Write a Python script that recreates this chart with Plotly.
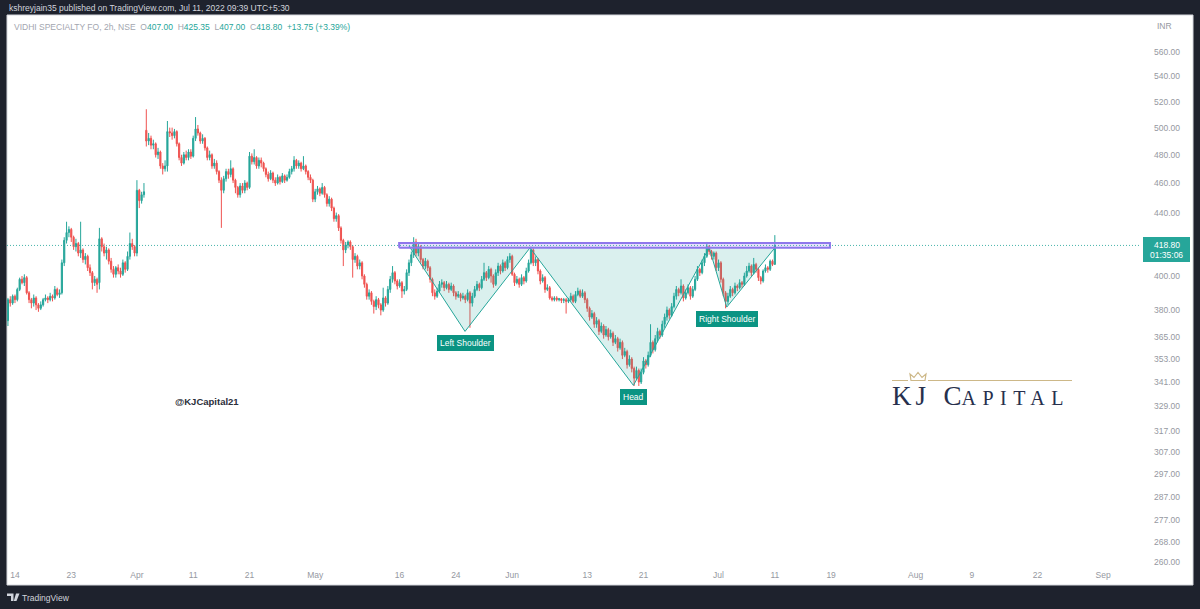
import numpy as np
import plotly.graph_objects as go

W, H = 1200, 609
PL, PR, PT, PB = 7, 1140, 15, 568
FONT = "Liberation Sans"

bar_index = list(range(-3, 325))

opens = [
    374, 386, 384, 388, 386, 392, 398, 396,
    399, 390, 386, 384, 387, 383, 381, 383,
    386, 387, 386, 388, 387, 392, 389, 390,
    408, 422, 427, 429, 424, 418, 420, 414,
    416, 410, 412, 405, 402, 396, 398, 396,
    423, 418, 414, 416, 409, 404, 401, 405,
    403, 401, 408, 404, 412, 420, 418, 414,
    455, 448, 452, 498, 490, 492, 487, 488,
    480, 482, 472, 470, 472, 497, 496, 494,
    497, 488, 478, 474, 480, 478, 482, 479,
    492, 499, 496, 490, 492, 485, 478, 480,
    472, 474, 468, 462, 455, 463, 468, 466,
    470, 462, 457, 452, 458, 455, 460, 457,
    479, 475, 478, 472, 476, 474, 470, 466,
    463, 467, 462, 460, 464, 461, 465, 462,
    464, 468, 470, 476, 472, 474, 470, 472,
    468, 464, 462, 449, 454, 456, 453, 457,
    452, 446, 449, 443, 436, 438, 430, 422,
    416, 419, 421, 418, 410, 412, 406, 408,
    400, 395, 388, 390, 385, 382, 386, 383,
    380, 387, 384, 392, 398, 402, 397, 394,
    396, 391, 392, 402, 408, 413, 421, 414,
    418, 410, 406, 409, 405, 398, 390, 388,
    391, 395, 396, 393, 395, 392, 394, 390,
    388, 389, 387, 388, 386, 390, 384, 388,
    392, 395, 393, 398, 402, 399, 404, 400,
    395, 402, 406, 403, 408, 405, 410, 412,
    401, 396, 398, 395, 399, 397, 403, 408,
    416, 408, 410, 403, 397, 399, 392, 393,
    387, 386, 387, 386, 386.5, 385.5, 386, 385,
    386, 388, 385, 389, 391, 388, 390, 386,
    381, 376, 378, 372, 374, 368, 371, 366,
    369, 365, 367, 362, 364, 359, 362, 355,
    357, 350, 353, 348, 343, 347, 341, 346,
    352, 350, 355, 362, 358, 364, 368, 366,
    372, 376, 380, 377, 382, 388, 392, 390,
    394, 387, 390, 393, 388, 392, 398, 404,
    402, 408, 412, 418, 415, 412, 414, 405,
    408, 398, 390, 385, 388, 392, 390, 394,
    393, 396, 395, 400, 403, 406, 402, 407,
    404, 399, 397, 403, 405, 404, 409, 407,
]

highs = [
    387, 388, 389, 389, 393, 399, 400, 401,
    400, 391, 387, 389, 388, 384, 385, 387,
    389, 388, 390, 389, 394, 393, 392, 410,
    424, 434, 431, 430, 425, 423, 421, 434,
    417, 414, 413, 407, 403, 400, 399, 430,
    424, 420, 418, 417, 411, 406, 406, 407,
    405, 410, 409, 415, 427, 423, 419, 462,
    456, 454, 460, 514, 496, 494, 491, 489,
    485, 483, 474, 476, 505, 500, 500, 499,
    498, 489, 480, 482, 483, 484, 484, 494,
    508, 502, 497, 495, 493, 486, 483, 481,
    477, 476, 469, 464, 465, 470, 470, 476,
    471, 463, 458, 460, 460, 462, 461, 482,
    481, 484, 479, 478, 478, 475, 471, 468,
    469, 468, 464, 466, 465, 467, 466, 466,
    470, 472, 479, 477, 476, 475, 479, 473,
    469, 466, 463, 456, 458, 457, 460, 458,
    453, 451, 450, 444, 440, 439, 431, 423,
    421, 422, 422, 419, 414, 413, 410, 409,
    401, 396, 392, 391, 386, 388, 387, 384,
    393, 388, 394, 400, 406, 403, 398, 398,
    397, 394, 404, 410, 415, 424, 423, 420,
    419, 411, 411, 410, 406, 399, 392, 393,
    397, 398, 397, 397, 396, 396, 395, 391,
    391, 390, 390, 389, 392, 391, 390, 394,
    397, 396, 400, 408, 403, 406, 405, 401,
    404, 408, 407, 410, 409, 412, 414, 413,
    402, 400, 399, 401, 400, 405, 410, 418,
    417, 412, 411, 404, 401, 400, 395, 394,
    388, 388, 388, 387, 387, 387, 387, 387,
    390, 389, 391, 393, 392, 392, 391, 387,
    382, 380, 379, 376, 375, 373, 372, 371,
    370, 369, 368, 366, 365, 364, 363, 359,
    358, 355, 354, 349, 349, 348, 348, 354,
    353, 357, 372, 363, 366, 370, 369, 374,
    378, 382, 381, 384, 390, 394, 393, 398,
    395, 392, 395, 394, 394, 400, 406, 405,
    410, 414, 421, 419, 416, 415, 415, 410,
    409, 399, 391, 390, 394, 393, 396, 395,
    398, 397, 402, 406, 408, 407, 411, 408,
    405, 400, 404, 407, 406, 410, 410, 425.35,
]

lows = [
    371, 382, 383, 384, 385, 391, 395, 394,
    389, 384, 381, 382, 380, 379, 380, 382,
    385, 384, 385, 385, 386, 388, 387, 389,
    406, 420, 424, 421, 416, 415, 412, 411,
    408, 407, 403, 400, 392, 394, 390, 392,
    415, 412, 410, 407, 402, 399, 399, 401,
    399, 400, 402, 403, 410, 416, 412, 412,
    443, 446, 450, 486, 487, 484, 484, 478,
    477, 470, 466, 468, 468, 493, 491, 492,
    486, 476, 472, 473, 476, 476, 477, 478,
    490, 494, 488, 488, 483, 476, 476, 470,
    470, 466, 460, 430, 453, 461, 463, 464,
    460, 453, 450, 450, 453, 453, 455, 456,
    473, 473, 470, 470, 471, 468, 464, 461,
    462, 460, 458, 459, 459, 460, 460, 461,
    463, 466, 468, 470, 470, 468, 469, 466,
    462, 460, 447, 447, 452, 451, 452, 450,
    444, 444, 441, 434, 434, 428, 420, 406,
    414, 417, 416, 399, 408, 404, 404, 398,
    393, 386, 386, 383, 378, 380, 381, 377,
    379, 382, 383, 390, 396, 395, 392, 393,
    387, 389, 391, 400, 406, 411, 412, 412,
    408, 404, 404, 403, 396, 388, 386, 387,
    390, 393, 391, 392, 390, 391, 388, 386,
    387, 385, 386, 384, 385, 370, 382, 387,
    391, 391, 392, 397, 397, 398, 396, 393,
    394, 400, 401, 402, 403, 404, 408, 400,
    394, 395, 393, 394, 395, 396, 402, 407,
    406, 406, 401, 395, 396, 390, 391, 386,
    385, 385, 385, 385, 384, 384, 378, 384,
    385, 384, 384, 388, 387, 387, 384, 379,
    374, 375, 370, 370, 366, 367, 364, 365,
    363, 364, 360, 361, 357, 358, 353, 354,
    348, 349, 346, 339, 342, 339, 340, 345,
    348, 349, 354, 356, 357, 362, 364, 365,
    370, 374, 375, 376, 381, 386, 388, 389,
    385, 386, 389, 386, 387, 391, 397, 400,
    401, 406, 411, 413, 410, 410, 403, 403,
    396, 388, 381, 383, 387, 388, 389, 391,
    392, 393, 394, 399, 402, 400, 401, 402,
    397, 395, 396, 402, 402, 403, 406, 407,
]

closes = [
    386, 384, 388, 386, 392, 398, 396, 399,
    390, 386, 384, 387, 383, 381, 383, 386,
    387, 386, 388, 387, 392, 389, 390, 408,
    422, 427, 429, 424, 418, 420, 414, 416,
    410, 412, 405, 402, 396, 398, 395, 423,
    418, 414, 416, 409, 404, 401, 405, 403,
    401, 408, 404, 412, 420, 418, 414, 455,
    448, 452, 454, 490, 492, 487, 488, 480,
    482, 472, 470, 472, 497, 496, 494, 497,
    488, 478, 474, 480, 478, 482, 479, 492,
    499, 496, 490, 492, 485, 478, 480, 472,
    474, 468, 462, 455, 463, 468, 466, 470,
    462, 457, 452, 458, 455, 460, 457, 479,
    475, 478, 472, 476, 474, 470, 466, 463,
    467, 462, 460, 464, 461, 465, 462, 464,
    468, 470, 476, 472, 474, 470, 472, 468,
    464, 462, 449, 454, 456, 453, 457, 452,
    446, 449, 443, 436, 438, 430, 422, 416,
    419, 421, 418, 410, 412, 406, 408, 400,
    395, 388, 390, 385, 382, 386, 383, 380,
    387, 384, 392, 398, 402, 397, 394, 396,
    391, 392, 402, 408, 413, 421, 414, 418,
    410, 406, 409, 405, 398, 390, 388, 391,
    395, 396, 393, 395, 392, 394, 390, 388,
    389, 387, 388, 386, 390, 384, 388, 392,
    395, 393, 398, 402, 399, 404, 400, 395,
    402, 406, 403, 408, 405, 410, 412, 401,
    396, 398, 395, 399, 397, 403, 408, 416,
    408, 410, 403, 397, 399, 392, 393, 387,
    386, 387, 386, 386.5, 385.5, 386, 385, 386,
    388, 385, 389, 391, 388, 390, 386, 381,
    376, 378, 372, 374, 368, 371, 366, 369,
    365, 367, 362, 364, 359, 362, 355, 357,
    350, 353, 348, 343, 347, 341, 346, 352,
    350, 355, 362, 358, 364, 368, 366, 372,
    376, 380, 377, 382, 388, 392, 390, 394,
    387, 390, 393, 388, 392, 398, 404, 402,
    408, 412, 418, 415, 412, 414, 405, 408,
    398, 390, 385, 388, 392, 390, 394, 393,
    396, 395, 400, 403, 406, 402, 407, 404,
    399, 397, 403, 405, 404, 409, 407, 418.8,
]

# time axis (trading-day index from Mar 14, 4 two-hour bars per day)
bars_per_day = 4
tick_days = [0, 6, 13, 19, 25, 32, 41, 47, 53, 61, 67, 75, 81, 87, 96, 102, 109, 116]
tick_labels = ["14", "23", "Apr", "11", "21", "May", "16", "24", "Jun", "13", "21",
               "Jul", "11", "19", "Aug", "9", "22", "Sep"]
x_range = [-3.4, 479.7]

price_ticks = [560, 540, 520, 500, 480, 460, 440, 400, 380, 365, 353, 341, 329,
               317, 307, 297, 287, 277, 268, 260]
y_range_prices = [257.8, 592.3]

# inverse head & shoulders drawing
pattern_bars = [168, 191.9, 219.6, 263.7, 296, 303.5, 324]
pattern_prices = [418.5, 368.0, 417.3, 339.3, 417.3, 381.7, 417.3]
pattern_labels = ["Left Shoulder", "Head", "Right Shoulder"]
label_points = [1, 3, 5]

neck_bars = [163.8, 347.5]
neck_prices = [417.3, 420.3]

last_price = closes[-1]

TEAL = "#26a69a"
RED = "#ef5350"


def px(x):
    return (x - PL) / (PR - PL)


def py(y):
    return (PB - y) / (PB - PT)


fig = go.Figure()

fig.add_trace(go.Candlestick(
    x=bar_index, open=opens, high=highs, low=lows, close=closes,
    increasing=dict(line=dict(color=TEAL, width=1), fillcolor=TEAL),
    decreasing=dict(line=dict(color=RED, width=1), fillcolor=RED),
    whiskerwidth=0, hoverinfo="skip", showlegend=False,
))

# pattern fill + outline
fig.add_trace(go.Scatter(
    x=pattern_bars, y=pattern_prices, mode="lines", fill="toself",
    fillcolor="rgba(38,166,154,0.17)", line=dict(color=TEAL, width=1),
    hoverinfo="skip", showlegend=False,
))

# neckline rectangle
fig.add_trace(go.Scatter(
    x=[neck_bars[0], neck_bars[1], neck_bars[1], neck_bars[0], neck_bars[0]],
    y=[neck_prices[0], neck_prices[0], neck_prices[1], neck_prices[1], neck_prices[0]],
    mode="lines", fill="toself", fillcolor="rgba(150,125,240,0.22)",
    line=dict(color="#8f78ec", width=2), hoverinfo="skip", showlegend=False,
))

# last price dotted line
fig.add_trace(go.Scatter(
    x=x_range, y=[last_price, last_price], mode="lines",
    line=dict(color="rgba(38,166,154,0.85)", width=1, dash="1px,2px"),
    hoverinfo="skip", showlegend=False,
))

shapes = []
# white chart panel
shapes.append(dict(type="rect", xref="paper", yref="paper", x0=px(7), x1=px(1193),
                   y0=py(585), y1=py(15), fillcolor="#ffffff",
                   line=dict(color="#d6d8de", width=1), layer="below"))
# last price label box on the scale
shapes.append(dict(type="rect", xref="paper", yref="paper", x0=px(1143), x1=px(1190),
                   y0=py(262), y1=py(237), fillcolor=TEAL, line=dict(width=0)))
# KJ Capital logo decoration (gold rule + crown)
GOLD = "#cdb888"
shapes.append(dict(type="line", xref="paper", yref="paper", x0=px(892), x1=px(908),
                   y0=py(380.5), y1=py(380.5), line=dict(color=GOLD, width=1)))
shapes.append(dict(type="line", xref="paper", yref="paper", x0=px(928), x1=px(1072),
                   y0=py(380.5), y1=py(380.5), line=dict(color=GOLD, width=1)))
crown_pts = [(911, 380.5), (925, 380.5), (926, 374), (922, 377.5), (918, 372.5),
             (914, 377.5), (910, 374)]
crown_path = "M " + " L ".join(f"{px(a):.5f},{py(b):.5f}" for a, b in crown_pts) + " Z"
shapes.append(dict(type="path", xref="paper", yref="paper", path=crown_path,
                   line=dict(color=GOLD, width=1.2)))
# TradingView logo mark
tv1 = [(7, 593.5), (13.5, 593.5), (13.5, 601), (11, 601), (11, 596), (7, 596)]
tv2 = [(16, 593.5), (19.5, 593.5), (16.5, 601), (13.8, 601)]
for pts in (tv1, tv2):
    shapes.append(dict(type="path", xref="paper", yref="paper",
                       path="M " + " L ".join(f"{px(a):.5f},{py(b):.5f}" for a, b in pts) + " Z",
                       fillcolor="#d1d4dc", line=dict(width=0)))

annotations = []


def note(text, x, y, size=8.5, color="#787b86", xanchor="left", yanchor="middle", family=FONT, **kw):
    annotations.append(dict(text=text, xref="paper", yref="paper", x=px(x), y=py(y),
                            xanchor=xanchor, yanchor=yanchor, showarrow=False,
                            font=dict(size=size, color=color, family=family), **kw))


note("kshreyjain35 published on TradingView.com, Jul 11, 2022 09:39 UTC+5:30", 7, 7.5,
     size=8.5, color="#d1d4dc")

G = "#a3a6af"
header = (f"<span style='color:{G}'>VIDHI SPECIALTY FO, 2h, NSE</span>\u00a0\u00a0"
          f"<span style='color:{G}'>O</span><span style='color:{TEAL}'>407.00</span>\u00a0\u00a0"
          f"<span style='color:{G}'>H</span><span style='color:{TEAL}'>425.35</span>\u00a0\u00a0"
          f"<span style='color:{G}'>L</span><span style='color:{TEAL}'>407.00</span>\u00a0\u00a0"
          f"<span style='color:{G}'>C</span><span style='color:{TEAL}'>418.80</span>\u00a0\u00a0"
          f"<span style='color:{TEAL}'>+13.75 (+3.39%)</span>")
note(header, 12, 27, size=8.5)
note("INR", 1155, 26, size=8.5, color="#9598a1")
note("418.80", 1166.5, 244.5, size=8.5, color="#ffffff", xanchor="center")
note("01:35:06", 1166.5, 255, size=8.5, color="#ffffff", xanchor="center")
note("<b>@KJCapital21</b>", 207, 401, size=9.5, color="#2a2e39", xanchor="center")
note("TradingView", 20, 597.5, size=8.5, color="#d1d4dc")

logo = ("<span style='letter-spacing:4px'>KJ</span>\u00a0\u00a0C"
        "<span style='font-size:20px;letter-spacing:6.5px'>APITAL</span>")
note(logo, 890, 413, size=27, color="#27304d", yanchor="bottom", family="Liberation Serif")

for name, i in zip(pattern_labels, label_points):
    annotations.append(dict(
        text=name, x=pattern_bars[i], y=np.log10(pattern_prices[i]), xref="x", yref="y",
        xanchor="center", yanchor="top", yshift=-4, showarrow=False,
        bgcolor="#0b9483", bordercolor="#0b9483", borderpad=2,
        font=dict(size=8.5, color="#ffffff", family=FONT),
    ))

fig.update_layout(
    width=W, height=H,
    margin=dict(l=PL, r=W - PR, t=PT, b=H - PB, pad=0),
    paper_bgcolor="#1e222d", plot_bgcolor="#ffffff",
    showlegend=False, hovermode=False,
    shapes=shapes, annotations=annotations,
    xaxis=dict(range=x_range, tickvals=[d * bars_per_day for d in tick_days],
               ticktext=tick_labels, showgrid=False, zeroline=False, showline=False,
               ticks="", tickfont=dict(size=8.5, color="#9598a1", family=FONT),
               rangeslider=dict(visible=False), fixedrange=True),
    yaxis=dict(type="log", side="right", range=[np.log10(v) for v in y_range_prices],
               tickvals=price_ticks, ticktext=[f"{v:.2f}" for v in price_ticks],
               showgrid=False, zeroline=False, showline=False, ticks="",
               tickfont=dict(size=8.5, color="#9598a1", family=FONT),
               ticklabelstandoff=13, fixedrange=True),
)

fig.write_html("out.html")
